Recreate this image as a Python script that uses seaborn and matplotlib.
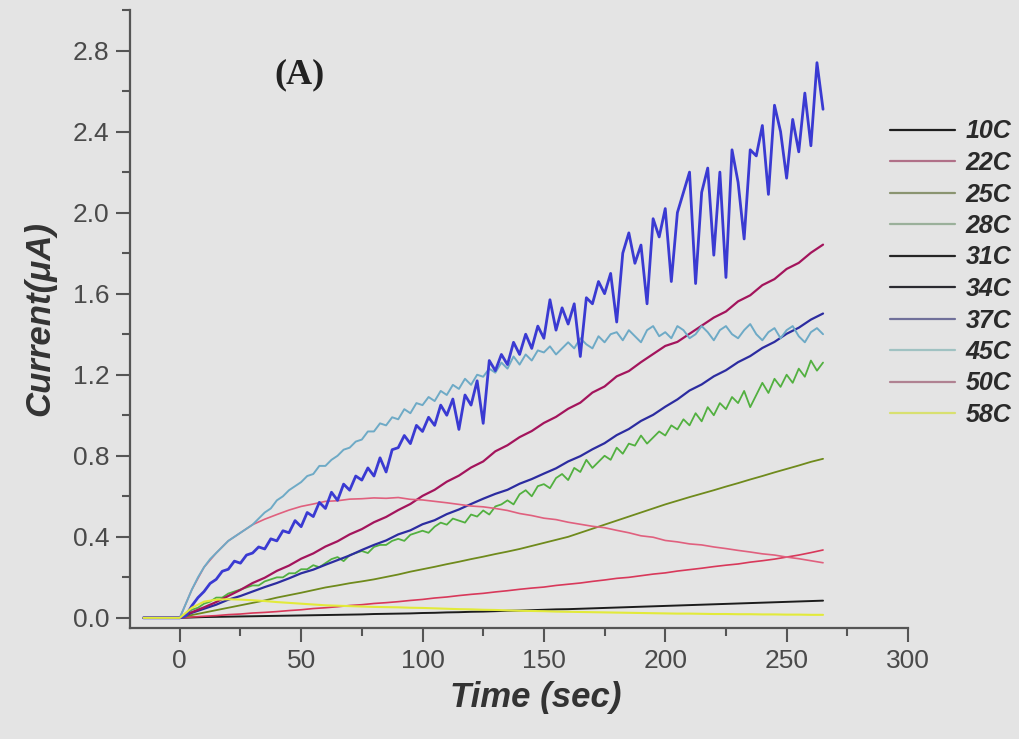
import numpy as np
import pandas as pd
import matplotlib
matplotlib.use("Agg")
import matplotlib.pyplot as plt
from matplotlib.lines import Line2D
from matplotlib import font_manager
import seaborn as sns

# ---------------- data ----------------
labels = ["10C", "22C", "25C", "28C", "31C", "34C", "37C", "45C", "50C", "58C"]
t_start = -15.0                      # flat baseline start
t_coarse = np.arange(0, 265.01, 5)   # 0 .. 265 s, step 5
t_fine = np.arange(0, 265.01, 2.5)   # 0 .. 265 s, step 2.5

c10 = [0, .002, .004, .005, .006, .007, .008, .009, .010, .011,
       .012, .013, .014, .015, .016, .017, .019, .020, .021, .022,
       .024, .025, .027, .028, .030, .031, .033, .035, .036, .038,
       .040, .042, .043, .045, .047, .049, .051, .053, .055, .057,
       .059, .061, .063, .065, .067, .069, .071, .073, .075, .077,
       .079, .081, .083, .085]
c22 = [0, .004, .008, .011, .016, .019, .024, .027, .031, .036,
       .040, .046, .050, .055, .061, .065, .071, .075, .080, .086,
       .091, .098, .103, .110, .116, .121, .128, .134, .141, .147,
       .152, .160, .166, .172, .180, .187, .195, .200, .208, .216,
       .222, .231, .238, .245, .253, .260, .266, .275, .282, .290,
       .300, .310, .322, .335]
c25 = [0, .014, .026, .038, .050, .062, .074, .086, .100, .112,
       .124, .137, .150, .160, .171, .180, .190, .202, .214, .228,
       .240, .252, .265, .277, .290, .302, .315, .327, .340, .355,
       .370, .385, .400, .420, .440, .460, .480, .500, .520, .540,
       .560, .578, .596, .613, .630, .648, .665, .683, .700, .718,
       .735, .752, .770, .785]
c28 = [0, .02, .04, .05, .07, .08, .10, .10, .12, .13,
       .14, .15, .16, .16, .18, .19, .20, .20, .22, .22,
       .24, .24, .26, .25, .27, .29, .30, .28, .31, .32,
       .33, .32, .35, .36, .36, .38, .39, .38, .41, .42,
       .43, .42, .45, .47, .46, .49, .48, .47, .51, .50,
       .53, .51, .55, .56, .58, .56, .61, .63, .60, .65,
       .66, .64, .69, .71, .68, .74, .72, .78, .74, .77,
       .80, .78, .84, .81, .86, .85, .90, .86, .89, .92,
       .90, .95, .93, .98, .95, 1.01, .97, 1.04, 1.00, 1.06,
       1.03, 1.09, 1.06, 1.12, 1.04, 1.10, 1.16, 1.11, 1.18, 1.14,
       1.20, 1.16, 1.23, 1.19, 1.27, 1.22, 1.26]
c31 = [0, .028, .052, .078, .108, .138, .172, .198, .232, .258,
       .292, .318, .352, .378, .412, .438, .472, .498, .532, .562,
       .602, .632, .672, .702, .742, .772, .822, .852, .892, .922,
       .962, .992, 1.032, 1.062, 1.112, 1.142, 1.192, 1.218, 1.262, 1.302,
       1.342, 1.362, 1.402, 1.442, 1.482, 1.512, 1.562, 1.592, 1.642, 1.672,
       1.722, 1.752, 1.802, 1.842]
c34 = [0, .025, .045, .065, .090, .108, .130, .152, .172, .195,
       .220, .238, .262, .285, .308, .335, .360, .382, .412, .432,
       .462, .482, .512, .535, .562, .588, .612, .632, .662, .685,
       .712, .738, .772, .798, .832, .862, .902, .932, .972, 1.002,
       1.042, 1.078, 1.122, 1.152, 1.192, 1.222, 1.262, 1.292, 1.332, 1.362,
       1.402, 1.432, 1.472, 1.502]
c37 = [0, .01, .06, .10, .13, .17, .19, .23, .24, .28,
       .27, .31, .32, .35, .34, .39, .38, .43, .42, .48,
       .45, .52, .50, .57, .54, .62, .58, .66, .63, .70,
       .68, .74, .70, .79, .72, .83, .84, .90, .86, .95,
       .92, .99, .95, 1.05, 1.00, 1.08, .93, 1.10, 1.05, 1.17,
       .96, 1.27, 1.22, 1.30, 1.25, 1.36, 1.30, 1.40, 1.33, 1.44,
       1.38, 1.57, 1.42, 1.53, 1.45, 1.55, 1.29, 1.58, 1.55, 1.66,
       1.60, 1.70, 1.46, 1.80, 1.90, 1.75, 1.84, 1.55, 1.97, 1.88,
       2.02, 1.66, 2.00, 2.10, 2.20, 1.65, 2.10, 2.22, 1.79, 2.20,
       1.68, 2.31, 2.15, 1.87, 2.31, 2.28, 2.43, 2.09, 2.53, 2.40,
       2.17, 2.46, 2.30, 2.59, 2.33, 2.74, 2.51]
c45 = [0, .07, .14, .20, .25, .29, .32, .35, .38, .40,
       .42, .44, .46, .49, .52, .54, .58, .60, .63, .65,
       .67, .70, .71, .75, .75, .78, .80, .83, .84, .87,
       .88, .92, .92, .96, .95, .99, .98, 1.03, 1.01, 1.06,
       1.05, 1.09, 1.07, 1.12, 1.10, 1.15, 1.13, 1.18, 1.15, 1.20,
       1.19, 1.23, 1.21, 1.26, 1.23, 1.29, 1.25, 1.30, 1.27, 1.32,
       1.31, 1.34, 1.30, 1.33, 1.36, 1.33, 1.38, 1.35, 1.33, 1.39,
       1.36, 1.40, 1.41, 1.37, 1.42, 1.39, 1.36, 1.42, 1.44, 1.39,
       1.41, 1.38, 1.44, 1.42, 1.38, 1.40, 1.44, 1.41, 1.37, 1.42,
       1.44, 1.40, 1.38, 1.42, 1.45, 1.40, 1.37, 1.41, 1.43, 1.38,
       1.42, 1.44, 1.39, 1.36, 1.41, 1.43, 1.40]
c50 = [0, .14, .25, .32, .38, .42, .46, .487, .51, .532,
       .55, .562, .575, .578, .586, .588, .592, .59, .594, .585,
       .582, .575, .568, .560, .552, .548, .540, .530, .515, .505,
       .492, .485, .472, .462, .452, .445, .432, .42, .405, .398,
       .382, .375, .365, .36, .35, .342, .333, .325, .316, .31,
       .30, .292, .282, .272]
c58 = [0, .05, .08, .09, .092, .09, .087, .083, .078, .074,
       .07, .066, .062, .06, .058, .056, .054, .053, .052, .05,
       .049, .047, .045, .043, .042, .04, .039, .037, .035, .034,
       .033, .031, .03, .029, .028, .027, .026, .025, .024, .023,
       .022, .021, .021, .02, .019, .019, .018, .018, .017, .017,
       .016, .016, .015, .015]

series_values = {"10C": c10, "22C": c22, "25C": c25, "28C": c28, "31C": c31,
                 "34C": c34, "37C": c37, "45C": c45, "50C": c50, "58C": c58}
fine_series = {"28C", "37C", "45C"}

# ---------------- styles ----------------
line_colors = {"10C": "#1c1c1c", "22C": "#d8385a", "25C": "#6f8a1c", "28C": "#52b040",
               "31C": "#a3145c", "34C": "#2c2ca0", "37C": "#3a3ad2", "45C": "#6eaac6",
               "50C": "#e0607e", "58C": "#e2ea3a"}
legend_colors = {"10C": "#1e1e1e", "22C": "#b07088", "25C": "#8a9470", "28C": "#9ab09a",
                 "31C": "#252525", "34C": "#2a2a30", "37C": "#70709a", "45C": "#a0c2c2",
                 "50C": "#b08292", "58C": "#d8e070"}
line_widths = {"10C": 1.4, "22C": 1.2, "25C": 1.3, "28C": 1.3, "31C": 1.6,
               "34C": 1.6, "37C": 2.0, "45C": 1.4, "50C": 1.2, "58C": 1.5}
draw_order = ["10C", "22C", "25C", "28C", "34C", "31C", "50C", "45C", "37C", "58C"]

rows = []
for name, vals in series_values.items():
    tg = t_fine if name in fine_series else t_coarse
    tt = [t_start] + list(tg[:len(vals)])
    vv = [0.0] + list(vals)
    for a, b in zip(tt, vv):
        rows.append((name, a, b))
df = pd.DataFrame(rows, columns=["series", "time", "current"])

# ---------------- fonts ----------------
avail = {f.name for f in font_manager.fontManager.ttflist}
def pick(*names):
    for n in names:
        if n in avail:
            return n
    return "DejaVu Sans"
tick_font = pick("Liberation Sans Narrow", "Liberation Sans", "DejaVu Sans")
label_font = pick("Liberation Sans", "DejaVu Sans")
serif_font = pick("Liberation Serif", "DejaVu Serif")

sns.set_theme(style="ticks")
plt.rcParams["font.family"] = [label_font, "DejaVu Sans"]

bg = "#e4e4e4"
fig = plt.figure(figsize=(10.2, 7.39), dpi=100, facecolor=bg)
ax = fig.add_axes([130 / 1020, 1 - 628 / 739, (908 - 130) / 1020, (628 - 10) / 739])
ax.set_facecolor(bg)

for name in draw_order:
    sub = df[df["series"] == name]
    sns.lineplot(data=sub, x="time", y="current", sort=False, estimator=None,
                 color=line_colors[name], linewidth=line_widths[name], ax=ax, legend=False)

ax.set_xlim(-20.5, 300)
ax.set_ylim(-0.05, 3.0)
ax.set_xticks(np.arange(0, 301, 50))
ax.set_xticks(np.arange(25, 300, 50), minor=True)
ax.set_yticks(np.arange(0, 2.81, 0.4))
ax.set_yticks(np.arange(0.2, 3.01, 0.4), minor=True)
ax.set_yticklabels([f"{v:.1f}" for v in np.arange(0, 2.81, 0.4)])
ax.set_xticklabels([str(v) for v in range(0, 301, 50)])

for s in ["top", "right"]:
    ax.spines[s].set_visible(False)
for s in ["left", "bottom"]:
    ax.spines[s].set_color("#555555")
    ax.spines[s].set_linewidth(1.6)
ax.tick_params(which="major", direction="out", length=10, width=1.5, color="#555555",
               labelsize=19, labelcolor="#4a4a4a", pad=5)
ax.tick_params(which="minor", direction="out", length=6, width=1.5, color="#555555")
for lab in ax.get_xticklabels() + ax.get_yticklabels():
    lab.set_fontfamily(tick_font)

ax.set_xlabel("Time (sec)", fontsize=25, fontweight="bold", fontstyle="italic",
              color="#333333", labelpad=1)
ax.xaxis.set_label_coords(0.522, -0.086)
ax.set_ylabel("Current(μA)", fontsize=25, fontweight="bold", fontstyle="italic",
              color="#333333", labelpad=12)

ax.text(0.2185, 0.895, "(A)", transform=ax.transAxes, ha="center", va="center",
        fontsize=26, fontweight="bold", family=serif_font, color="#222222")

handles = [Line2D([0], [0], color=legend_colors[n], lw=1.6) for n in labels]
leg = fig.legend(handles, labels, loc="upper left", bbox_to_anchor=(868 / 1020, 1 - 97 / 739),
                 frameon=False, handlelength=2.6, handletextpad=0.4, labelspacing=0.3,
                 prop={"family": label_font, "weight": "bold", "style": "italic", "size": 18})
for t in leg.get_texts():
    t.set_color("#2a2a2a")

fig.savefig("out.png", dpi=100, facecolor=bg)
